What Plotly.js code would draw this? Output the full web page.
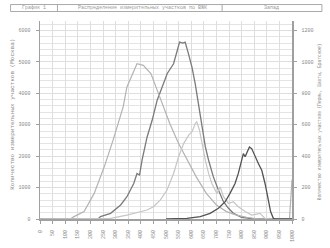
<!DOCTYPE html>
<html>
<head>
<meta charset="utf-8">
<script src="https://cdn.plot.ly/plotly-3.0.1.min.js"></script>
<style>html,body{margin:0;padding:0;background:#fff;}#chart{width:330px;height:248px;}</style>
</head>
<body>
<div id="chart"></div>
<script>
// X tick labels
const xTickVals = [0,50,100,150,200,250,300,350,400,450,500,550,600,650,700,750,800,850,900,950,1000];
const xTickLabels = xTickVals.map(String);

// Series A (left axis, Москва)
const sAx = [0,230,240,280,320,345,372,385,395,405,425,445,465,485,505,530,543,554,567,576,589,603,616,629,642,656,669,688,708,728,748,768,800,850,1000];
const sAy = [0,0,75,180,445,710,1130,1450,1400,1870,2610,3140,3780,4200,4630,4940,5360,5630,5600,5630,5260,4830,4300,3680,2930,2300,1870,1340,920,550,340,180,55,0,0];

// Series B (right axis)
const sBx = [0,120,135,175,215,255,290,330,345,365,385,410,440,465,490,515,550,585,620,660,700,740,780,820,870,990,1000];
const sBy = [0,0,15,47,163,332,502,714,840,914,988,978,926,820,714,608,480,374,268,163,89,47,25,11,0,0,250];

// Series C (right axis)
const sCx = [0,270,280,345,400,425,450,477,504,530,550,570,590,603,616,622,633,642,656,669,682,702,715,728,748,767,787,814,840,873,893,910,1000];
const sCy = [0,0,4,25,47,57,78,120,184,290,396,480,534,554,608,618,566,480,374,290,226,163,204,142,99,110,78,47,25,36,4,0,0];

// Series D (right axis)
const sDx = [500,583,636,675,708,735,754,774,787,801,807,814,820,831,840,853,867,880,893,906,915,926,935,1000];
const sDy = [0,4,15,36,68,110,163,226,290,374,416,396,416,458,448,396,352,310,226,121,47,4,0,0];

const headerTexts = ["График 1","Распределение измерительных участков по ВЖК","Запад"];
const leftTitle = "Количество измерительных участков (Москва)";
const rightTitle = "Количество измерительных участков (Пермь, Шахты, Братское)";

const mono = "Liberation Mono, DejaVu Sans Mono, monospace";
const L = 39.5, R = 292, T = 20.5, B = 219;
const W = R - L, H = B - T;
const px = x => (x - L) / W;
const py = y => 1 - (y - T) / H;

const traces = [
  {x: sBx, y: sBy, yaxis: 'y2', mode: 'lines', line: {color: '#b3b3b3', width: 1.2}, hoverinfo: 'skip'},
  {x: sCx, y: sCy, yaxis: 'y2', mode: 'lines', line: {color: '#c6c6c6', width: 1.2}, hoverinfo: 'skip'},
  {x: sAx, y: sAy, yaxis: 'y', mode: 'lines', line: {color: '#7a7a7a', width: 1.3}, hoverinfo: 'skip'},
  {x: sDx, y: sDy, yaxis: 'y2', mode: 'lines', line: {color: '#525252', width: 1.3}, hoverinfo: 'skip'}
];

const shapes = [];
const bx0 = px(10), bx1 = px(322), by0 = py(11), by1 = py(4);
shapes.push({type:'rect', xref:'paper', yref:'paper', x0:bx0, x1:bx1, y0:by0, y1:by1, line:{color:'#aaa', width:1}});
[57, 222].forEach(v => shapes.push({type:'line', xref:'paper', yref:'paper', x0:px(v), x1:px(v), y0:by0, y1:by1, line:{color:'#aaa', width:1}}));

const annotations = [
  {text: headerTexts[0], x: px(33.5), y: py(7.5)},
  {text: headerTexts[1], x: px(142), y: py(7.5)},
  {text: headerTexts[2], x: px(271), y: py(7.5)}
].map(a => Object.assign(a, {xref:'paper', yref:'paper', showarrow:false, xanchor:'center', yanchor:'middle', font:{family:mono, size:5, color:'#999'}}));
annotations.push({text: leftTitle, x: px(12), y: py(114), xref:'paper', yref:'paper', showarrow:false, textangle:-90, xanchor:'center', yanchor:'middle', font:{family:mono, size:6, color:'#888'}});
annotations.push({text: rightTitle, x: px(319), y: py(121), xref:'paper', yref:'paper', showarrow:false, textangle:-90, xanchor:'center', yanchor:'middle', font:{family:mono, size:4.5, color:'#888'}});

const tickFont = {family: mono, size: 5, color: '#888'};
const layout = {
  width: 330, height: 248,
  margin: {l: L, r: 330 - R, t: T, b: 248 - B, pad: 0},
  paper_bgcolor: '#fff', plot_bgcolor: '#fff',
  showlegend: false,
  xaxis: {
    range: [0, 1000], tickvals: xTickVals, ticktext: xTickLabels, tickangle: -90,
    showgrid: true, gridcolor: '#dedede', gridwidth: 1,
    showline: true, linecolor: '#a0a0a0', linewidth: 2,
    ticks: 'outside', ticklen: 3, tickcolor: '#a0a0a0', tickfont: tickFont,
    ticklabelstandoff: 4, zeroline: false, fixedrange: true
  },
  yaxis: {
    range: [0, 6300], tickvals: [0,1000,2000,3000,4000,5000,6000],
    showgrid: true, gridcolor: '#dedede', gridwidth: 1,
    minor: {dtick: 200, showgrid: true, gridcolor: '#e4e4e4', gridwidth: 1},
    showline: true, linecolor: '#a0a0a0', linewidth: 1.5,
    ticks: 'outside', ticklen: 3, tickcolor: '#a0a0a0', tickfont: tickFont,
    ticklabelstandoff: 4, zeroline: false, fixedrange: true
  },
  yaxis2: {
    range: [0, 1260], tickvals: [0,200,400,600,800,1000,1200], overlaying: 'y', side: 'right',
    showgrid: false, showline: true, linecolor: '#a0a0a0', linewidth: 1.5,
    ticks: 'outside', ticklen: 3, tickcolor: '#a0a0a0', tickfont: tickFont,
    ticklabelstandoff: 4, zeroline: false, fixedrange: true
  },
  shapes: shapes,
  annotations: annotations
};

Plotly.newPlot('chart', traces, layout, {staticPlot: true, displayModeBar: false});
</script>
</body>
</html>
